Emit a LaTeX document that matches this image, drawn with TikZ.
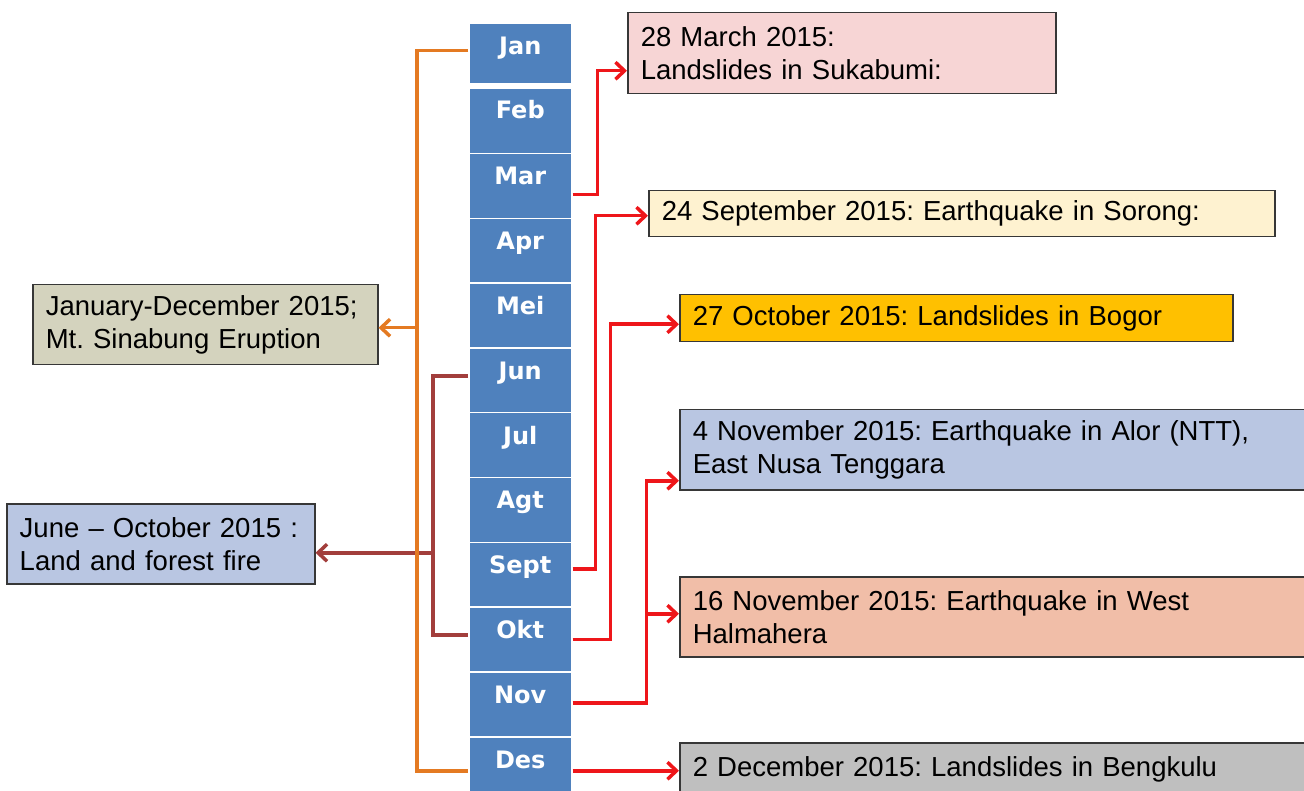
\documentclass[tikz,border=0pt]{standalone}
\usepackage{fontspec}
\setmainfont{Liberation Sans}
\newfontfamily\monthfont{DejaVu Sans}
\usetikzlibrary{arrows.meta}
\frenchspacing
\definecolor{monthblue}{RGB}{79,129,189}
\definecolor{boxline}{RGB}{55,55,55}
\definecolor{cTan}{RGB}{212,211,190}
\definecolor{cBlue}{RGB}{185,198,226}
\definecolor{cPink}{RGB}{247,213,213}
\definecolor{cCream}{RGB}{254,242,208}
\definecolor{cGold}{RGB}{255,192,0}
\definecolor{cSalmon}{RGB}{241,190,168}
\definecolor{cGray}{RGB}{191,191,191}
\definecolor{cOrange}{RGB}{228,122,34}
\definecolor{cBrown}{RGB}{162,62,60}
\definecolor{cRed}{RGB}{238,22,26}
\begin{document}
\begin{tikzpicture}[x=1pt,y=-1pt,
  month/.style={draw=white, line width=1.5pt, fill=monthblue, minimum width=103pt, inner sep=0pt, anchor=north west},
  mlabel/.style={text=white, font=\monthfont\bfseries\fontsize{24}{28}\selectfont, inner sep=0pt, anchor=base},
  evbox/.style={draw=boxline, line width=1.5pt, anchor=north west, inner xsep=13pt, inner ysep=0pt, align=left, font=\fontsize{27.5}{33}\selectfont},
  tip/.style={-{Straight Barb[length=9pt,width=17pt]}},
  oline/.style={draw=cOrange, line width=3.5pt},
  bline/.style={draw=cBrown, line width=3.5pt},
  rline/.style={draw=cRed, line width=3.5pt}]
\useasboundingbox (0,0) rectangle (1304,791);
% month cells
\node[month, minimum height=60pt] (m1) at (468,23) {};
\node[month, minimum height=64.8pt] (m2) at (468,88) {};
\node[month, minimum height=64.8pt] (m3) at (468,152.8) {};
\node[month, minimum height=64.8pt] (m4) at (468,217.6) {};
\node[month, minimum height=64.8pt] (m5) at (468,282.4) {};
\node[month, minimum height=64.8pt] (m6) at (468,347.2) {};
\node[month, minimum height=64.8pt] (m7) at (468,412) {};
\node[month, minimum height=64.8pt] (m8) at (468,476.8) {};
\node[month, minimum height=64.8pt] (m9) at (468,541.6) {};
\node[month, minimum height=64.8pt] (m10) at (468,606.4) {};
\node[month, minimum height=64.8pt] (m11) at (468,671.2) {};
\node[month, minimum height=70pt] (m12) at (468,736) {};
% month labels
\node[mlabel] (t1) at ([yshift=-32pt]m1.north) {Jan};
\node[mlabel] (t2) at ([yshift=-31pt]m2.north) {Feb};
\node[mlabel] (t3) at ([yshift=-32pt]m3.north) {Mar};
\node[mlabel] (t4) at ([yshift=-32pt]m4.north) {Apr};
\node[mlabel] (t5) at ([yshift=-32pt]m5.north) {Mei};
\node[mlabel] (t6) at ([yshift=-32pt]m6.north) {Jun};
\node[mlabel] (t7) at ([yshift=-32pt]m7.north) {Jul};
\node[mlabel] (t8) at ([yshift=-32pt]m8.north) {Agt};
\node[mlabel] (t9) at ([yshift=-32pt]m9.north) {Sept};
\node[mlabel] (t10) at ([yshift=-32pt]m10.north) {Okt};
\node[mlabel] (t11) at ([yshift=-32pt]m11.north) {Nov};
\node[mlabel] (t12) at ([yshift=-32pt]m12.north) {Des};
% left boxes
\node[evbox, fill=cTan, text width=319pt, minimum height=80pt] (box1) at (32,284) {January-December 2015;\\Mt. Sinabung Eruption};
\node[evbox, fill=cBlue, text width=282pt, minimum height=80pt] (box2) at (6,503) {June -- October 2015 :\\Land and forest fire};
% right boxes
\node[evbox, fill=cPink, text width=402pt, minimum height=81pt] (boxA) at (627,12) {28 March 2015:\\Landslides in Sukabumi:};
\node[evbox, fill=cCream, text width=600pt, minimum height=46pt] (boxB) at (648,190) {24 September 2015: Earthquake in Sorong:};
\node[evbox, fill=cGold, text width=527pt, minimum height=47pt] (boxC) at (679,294) {27 October 2015: Landslides in Bogor};
\node[evbox, fill=cBlue, text width=600pt, minimum height=80pt] (boxD) at (679,409) {4 November 2015: Earthquake in Alor (NTT),\\East Nusa Tenggara};
\node[evbox, fill=cSalmon, text width=600pt, minimum height=80pt] (boxE) at (679,576) {16 November 2015: Earthquake in West\\Halmahera};
\node[evbox, fill=cGray, text width=600pt, minimum height=54pt] (boxF) at (679,742) {2 December 2015: Landslides in Bengkulu};
% brown connector (Jun - Okt)
\draw[bline] ([yshift=4.5pt]m6.west) -- ++(-35,0) coordinate (bt) |- ([yshift=4.5pt]m10.west);
\coordinate (b2in) at ([yshift=-9pt]box2.east);
\draw[bline, tip] (bt |- b2in) -- (b2in);
% orange connector (Jan - Des)
\draw[oline] ([yshift=3pt]m1.west) -- ++(-51,0) coordinate (ot) |- ([yshift=1pt]m12.west);
\coordinate (b1in) at ([yshift=-3pt]box1.east);
\draw[oline, tip] (ot |- b1in) -- (b1in);
% red connectors
\draw[rline, tip] ([yshift=-8.6pt]m3.east) -- ++(25,0) |- ([yshift=-17.5pt]boxA.west);
\draw[rline, tip] ([yshift=6pt]m9.east) -- ++(23,0) |- ([yshift=-2pt]boxB.west);
\draw[rline, tip] (m10.east) -- ++(38,0) |- ([yshift=-6pt]boxC.west);
\draw[rline, tip] ([yshift=1.6pt]m11.east) -- ++(74,0) coordinate (nb) |- ([yshift=-31pt]boxD.west);
\coordinate (eIn) at ([yshift=3pt]boxE.west);
\draw[rline, tip] (nb |- eIn) -- (eIn);
\draw[rline, tip] ([yshift=1pt]m12.east) -- ([yshift=1pt]m12.east -| boxF.west);
\end{tikzpicture}
\end{document}
